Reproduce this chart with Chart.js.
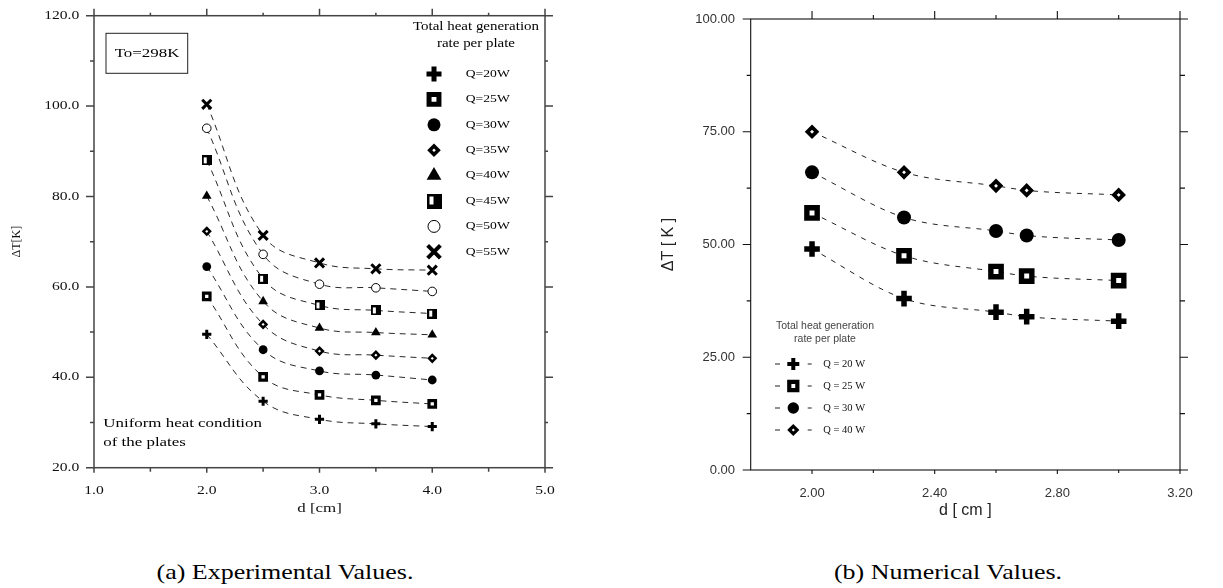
<!DOCTYPE html>
<html><head><meta charset="utf-8">
<script src="https://cdn.jsdelivr.net/npm/chart.js@4/dist/chart.umd.min.js"></script>
<style>
html,body{margin:0;padding:0;background:#fff;width:1223px;height:588px;overflow:hidden;position:relative}
#ca{position:absolute;left:0;top:0}
#cb{position:absolute;left:640px;top:0}
.cap{position:absolute;font-family:"Liberation Serif";font-size:22px;color:#000;white-space:nowrap;transform:translate(-50%,-50%) scaleX(1.18);}
#capa{left:285px;top:572px}
#capb{left:948px;top:572px}
</style></head>
<body>
<canvas id="ca" width="600" height="516"></canvas>
<canvas id="cb" width="583" height="520"></canvas>
<div class="cap" id="capa">(a) Experimental Values.</div>
<div class="cap" id="capb">(b) Numerical Values.</div>
<script>
// ---------- DATA ----------
const D_EXP = [2.0, 2.5, 3.0, 3.5, 4.0];
const EXP_LABELS = ['Q=20W','Q=25W','Q=30W','Q=35W','Q=40W','Q=45W','Q=50W','Q=55W'];
const EXP_Q20 = [49.5, 34.7, 30.7, 29.7, 29.1];
const EXP_Q25 = [57.9, 40.1, 36.1, 34.9, 34.1];
const EXP_Q30 = [64.5, 46.1, 41.4, 40.5, 39.4];
const EXP_Q35 = [72.3, 51.7, 45.8, 44.9, 44.2];
const EXP_Q40 = [80.1, 56.8, 50.9, 49.9, 49.4];
const EXP_Q45 = [88.0, 61.8, 55.9, 54.8, 54.1];
const EXP_Q50 = [95.1, 67.2, 60.6, 59.8, 59.0];
const EXP_Q55 = [100.4, 71.4, 65.3, 64.0, 63.7];

const D_NUM = [2.0, 2.3, 2.6, 2.7, 3.0];
const NUM_LABELS = ['Q = 20 W','Q = 25 W','Q = 30 W','Q = 40 W'];
const NUM_Q20 = [49, 38, 35, 34, 33];
const NUM_Q25 = [57, 47.5, 44, 43, 42];
const NUM_Q30 = [66, 56, 53, 52, 51];
const NUM_Q40 = [75, 66, 63, 62, 61];

const EXP_X_TICKS = [1, 2, 3, 4, 5];
const EXP_X_MINOR = [1.5, 2.5, 3.5, 4.5];
const EXP_Y_TICKS = [20, 40, 60, 80, 100, 120];
const EXP_Y_MINOR = [30, 50, 70, 90, 110];
const NUM_X_TICKS = [2.0, 2.4, 2.8, 3.2];
const NUM_X_MINOR = [2.2, 2.6, 3.0];
const NUM_Y_TICKS = [0, 25, 50, 75, 100];
const NUM_Y_MINOR = [12.5, 37.5, 62.5, 87.5];

// ---------- helpers ----------
const pts = (xs, ys) => xs.map((x, i) => ({x: x, y: ys[i]}));
function halfSquare(s) {
  const c = document.createElement('canvas'); c.width = s; c.height = s;
  const g = c.getContext('2d');
  g.fillStyle = '#000'; g.fillRect(0, 0, s, s);
  g.fillStyle = '#fff'; g.fillRect(Math.round(s*0.22), Math.round(s*0.22), Math.max(2, Math.round(s*0.26)), Math.round(s*0.56));
  return c;
}
function stretchText(ctx, sx) {
  const orig = ctx.fillText;
  ctx.fillText = function(t, x, y) {
    const m = ctx.getTransform();
    if (Math.abs(m.b) > 1e-6 || Math.abs(m.c) > 1e-6) return orig.call(ctx, t, x, y);
    ctx.save(); ctx.translate(x, y); ctx.scale(sx, 1); orig.call(ctx, t, 0, 0); ctx.restore();
  };
}
const drawPt = (ctx, m, x, y) => {
  ctx.save();
  ctx.fillStyle = m.fill; ctx.strokeStyle = '#000'; ctx.lineWidth = m.bw; ctx.setLineDash([]);
  Chart.helpers.drawPoint(ctx, {pointStyle: m.style, radius: m.r, rotation: 0, borderWidth: m.bw}, x, y);
  ctx.restore();
};
const fixY = w => s => { s.width = w; s.paddingTop = 0; s.paddingBottom = 0; };
const fixX = h => s => { s.height = h; s.paddingLeft = 0; s.paddingRight = 0; };

const frameTicks = {
  id: 'frameTicks',
  afterDraw(chart, args, o) {
    const {ctx, chartArea: a} = chart;
    const sx = chart.scales.x, sy = chart.scales.y;
    ctx.save();
    ctx.strokeStyle = o.color; ctx.lineWidth = o.width; ctx.setLineDash([]);
    ctx.strokeRect(a.left, a.top, a.right - a.left, a.bottom - a.top);
    ctx.beginPath();
    const L = o.len;
    [[o.xMajor, 0], [o.xMinor, 1]].forEach(([vals, k]) => vals.forEach(v => {
      const p = sx.getPixelForValue(v);
      ctx.moveTo(p, a.bottom); ctx.lineTo(p, a.bottom + L.bottom[k]);
      ctx.moveTo(p, a.top); ctx.lineTo(p, a.top - L.top[k]);
    }));
    [[o.yMajor, 0], [o.yMinor, 1]].forEach(([vals, k]) => vals.forEach(v => {
      const p = sy.getPixelForValue(v);
      ctx.moveTo(a.left, p); ctx.lineTo(a.left - L.left[k], p);
      ctx.moveTo(a.right, p); ctx.lineTo(a.right + L.right[k], p);
    }));
    ctx.stroke();
    ctx.restore();
  }
};

// ---------- LEFT CHART (experimental) ----------
const EXP_SERIES = [EXP_Q20, EXP_Q25, EXP_Q30, EXP_Q35, EXP_Q40, EXP_Q45, EXP_Q50, EXP_Q55];
const EXP_MARK = [
  {style: 'cross', r: 4.6, bw: 3, fill: '#000'},
  {style: 'rect', r: 4.6, bw: 3.2, fill: '#fff'},
  {style: 'circle', r: 4.4, bw: 0, fill: '#000'},
  {style: 'rectRot', r: 3.3, bw: 2.5, fill: '#fff'},
  {style: 'triangle', r: 5.6, bw: 0, fill: '#000'},
  {style: halfSquare(10), r: 5, bw: 0, fill: '#000'},
  {style: 'circle', r: 4.3, bw: 1, fill: '#fff'},
  {style: 'crossRot', r: 6.4, bw: 3, fill: '#000'}
];
const EXP_LEG_MARK = [
  {style: 'cross', r: 7.5, bw: 5, fill: '#000'},
  {style: 'rect', r: 7, bw: 5, fill: '#fff'},
  {style: 'circle', r: 6.5, bw: 0, fill: '#000'},
  {style: 'rectRot', r: 4.3, bw: 3.5, fill: '#fff'},
  {style: 'triangle', r: 8.5, bw: 0, fill: '#000'},
  {style: halfSquare(15), r: 7, bw: 0, fill: '#000'},
  {style: 'circle', r: 6, bw: 1, fill: '#fff'},
  {style: 'crossRot', r: 9, bw: 4, fill: '#000'}
];

const expAnno = {
  id: 'expAnno',
  afterDraw(chart) {
    const {ctx, chartArea: a} = chart;
    ctx.save();
    ctx.fillStyle = '#000'; ctx.strokeStyle = '#222'; ctx.lineWidth = 1;
    ctx.strokeRect(a.left + 12, a.top + 17.6, 81.7, 40);
    ctx.font = '13px "Liberation Serif"'; ctx.textAlign = 'center'; ctx.textBaseline = 'middle';
    ctx.fillText('To=298K', a.left + 53, a.top + 38);
    ctx.textAlign = 'left';
    ctx.fillText('Uniform heat condition', a.left + 9.3, a.top + 408.3);
    ctx.fillText('of the plates', a.left + 9.3, a.top + 427);
    ctx.font = '11.5px "Liberation Serif"'; ctx.textAlign = 'center';
    ctx.fillText('Total heat generation', a.left + 382, a.top + 10.8);
    ctx.fillText('rate per plate', a.left + 382, a.top + 28.3);
    ctx.font = '10.5px "Liberation Serif"'; ctx.textAlign = 'left';
    EXP_LABELS.forEach((lab, i) => {
      const y = a.top + 58.3 + 25.4 * i;
      drawPt(ctx, EXP_LEG_MARK[i], a.left + 340, y);
      ctx.fillStyle = '#000';
      ctx.fillText(lab, a.left + 371.7, y);
    });
    ctx.restore();
  }
};

const ctxA = document.getElementById('ca').getContext('2d');
stretchText(ctxA, 1.3);
new Chart(ctxA, {
  type: 'line',
  data: {
    datasets: EXP_SERIES.map((ys, i) => ({
      label: EXP_LABELS[i],
      data: pts(D_EXP, ys),
      borderColor: '#111', borderWidth: 0.9, borderDash: [6, 5],
      tension: 0.4, fill: false,
      pointStyle: EXP_MARK[i].style, pointRadius: EXP_MARK[i].r,
      pointBorderWidth: EXP_MARK[i].bw, pointBorderColor: '#000',
      pointBackgroundColor: EXP_MARK[i].fill
    }))
  },
  options: {
    responsive: false, animation: false, events: [],
    layout: {autoPadding: false, padding: {top: 15.7, right: 55, left: 0, bottom: 0}},
    plugins: {
      legend: {display: false}, tooltip: {enabled: false},
      frameTicks: {color: '#444', width: 1.5, xMajor: EXP_X_TICKS, xMinor: EXP_X_MINOR, yMajor: EXP_Y_TICKS, yMinor: EXP_Y_MINOR,
        len: {top: [7, 3], bottom: [5, 4], left: [8, 4], right: [8, 3]}}
    },
    scales: {
      x: {
        type: 'linear', min: 1, max: 5,
        afterBuildTicks: s => { s.ticks = EXP_X_TICKS.map(v => ({value: v})); },
        ticks: {callback: v => v.toFixed(1), font: {family: 'Liberation Serif', size: 12}, color: '#111', padding: 15.8, maxRotation: 0, autoSkip: false},
        grid: {display: false, drawTicks: false}, border: {display: false},
        title: {display: true, text: 'd [cm]', font: {family: 'Liberation Serif', size: 13}, color: '#111', padding: 0},
        afterFit: fixX(48.3)
      },
      y: {
        type: 'linear', min: 20, max: 120,
        afterBuildTicks: s => { s.ticks = EXP_Y_TICKS.map(v => ({value: v})); },
        ticks: {callback: v => v.toFixed(1), font: {family: 'Liberation Serif', size: 12}, color: '#111', padding: 14.7, autoSkip: false},
        grid: {display: false, drawTicks: false}, border: {display: false},
        title: {display: true, text: 'ΔT[K]', font: {family: 'Liberation Serif', size: 12}, color: '#111', padding: {top: 9.3, bottom: 0}},
        afterFit: fixY(94)
      }
    }
  },
  plugins: [frameTicks, expAnno]
});

// ---------- RIGHT CHART (numerical) ----------
const NUM_SERIES = [NUM_Q20, NUM_Q25, NUM_Q30, NUM_Q40];
const NUM_MARK = [
  {style: 'cross', r: 7.8, bw: 5.5, fill: '#000'},
  {style: 'rect', r: 7.3, bw: 5.4, fill: '#fff'},
  {style: 'circle', r: 7, bw: 0, fill: '#000'},
  {style: 'rectRot', r: 4.6, bw: 3.8, fill: '#fff'}
];
const NUM_LEG_MARK = [
  {style: 'cross', r: 6, bw: 4, fill: '#000'},
  {style: 'rect', r: 5.7, bw: 4.2, fill: '#fff'},
  {style: 'circle', r: 5.7, bw: 0, fill: '#000'},
  {style: 'rectRot', r: 3.8, bw: 3.2, fill: '#fff'}
];
const numAnno = {
  id: 'numAnno',
  afterDraw(chart) {
    const {ctx, chartArea: a} = chart;
    ctx.save();
    ctx.fillStyle = '#444';
    ctx.font = '10.5px "Liberation Sans"'; ctx.textAlign = 'center'; ctx.textBaseline = 'middle';
    ctx.fillText('Total heat generation', a.left + 74.3, a.top + 307.5);
    ctx.fillText('rate per plate', a.left + 74.3, a.top + 320.5);
    ctx.font = '10.5px "Liberation Serif"'; ctx.textAlign = 'left';
    NUM_LABELS.forEach((lab, i) => {
      const y = a.top + 345 + 22 * i;
      ctx.strokeStyle = '#222'; ctx.lineWidth = 1.2; ctx.setLineDash([]);
      ctx.beginPath();
      ctx.moveTo(a.left + 24.3, y); ctx.lineTo(a.left + 29.3, y);
      ctx.moveTo(a.left + 57, y); ctx.lineTo(a.left + 61, y);
      ctx.stroke();
      drawPt(ctx, NUM_LEG_MARK[i], a.left + 42.6, y);
      ctx.fillStyle = '#111';
      ctx.fillText(lab, a.left + 72.6, y);
    });
    ctx.restore();
  }
};

new Chart(document.getElementById('cb'), {
  type: 'line',
  data: {
    datasets: NUM_SERIES.map((ys, i) => ({
      label: NUM_LABELS[i],
      data: pts(D_NUM, ys),
      borderColor: '#222', borderWidth: 1, borderDash: [5, 6],
      cubicInterpolationMode: 'monotone', fill: false,
      pointStyle: NUM_MARK[i].style, pointRadius: NUM_MARK[i].r,
      pointBorderWidth: NUM_MARK[i].bw, pointBorderColor: '#000',
      pointBackgroundColor: NUM_MARK[i].fill
    }))
  },
  options: {
    responsive: false, animation: false, events: [],
    layout: {autoPadding: false, padding: {top: 19, right: 43, left: 0, bottom: 0}},
    plugins: {
      legend: {display: false}, tooltip: {enabled: false},
      frameTicks: {color: '#111', width: 1.1, xMajor: NUM_X_TICKS, xMinor: NUM_X_MINOR, yMajor: NUM_Y_TICKS, yMinor: NUM_Y_MINOR,
        len: {top: [8, 4], bottom: [4, 3], left: [8, 4], right: [8, 5]}}
    },
    scales: {
      x: {
        type: 'linear', min: 1.8, max: 3.2,
        afterBuildTicks: s => { s.ticks = NUM_X_TICKS.map(v => ({value: v})); },
        ticks: {callback: v => v.toFixed(2), font: {family: 'Liberation Sans', size: 13}, color: '#333', padding: 15.5, maxRotation: 0, autoSkip: false},
        grid: {display: false, drawTicks: false}, border: {display: false},
        title: {display: true, text: 'd [ cm ]', font: {family: 'Liberation Sans', size: 16}, color: '#222', padding: 0},
        afterFit: fixX(50)
      },
      y: {
        type: 'linear', min: 0, max: 100,
        afterBuildTicks: s => { s.ticks = NUM_Y_TICKS.map(v => ({value: v})); },
        ticks: {callback: v => v.toFixed(2), font: {family: 'Liberation Sans', size: 13}, color: '#333', padding: 15.7, autoSkip: false},
        grid: {display: false, drawTicks: false}, border: {display: false},
        title: {display: true, text: 'ΔT [ K ]', font: {family: 'Liberation Sans', size: 16}, color: '#222', padding: {top: 18.7, bottom: 0}},
        afterFit: fixY(110.7)
      }
    }
  },
  plugins: [frameTicks, numAnno]
});
</script>
</body></html>
